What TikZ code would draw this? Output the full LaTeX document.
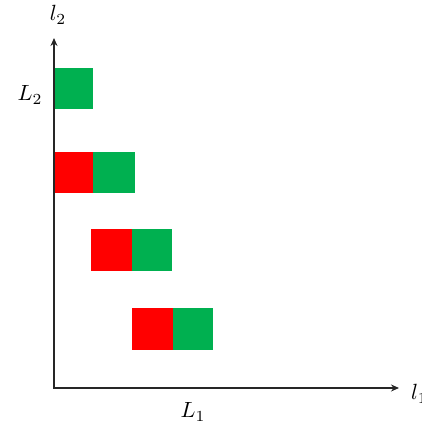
\documentclass[tikz,border=0pt]{standalone}
\usetikzlibrary{arrows.meta}
\definecolor{offgreen}{HTML}{00B050}
\definecolor{offred}{HTML}{FF0000}
\newcommand\axlab[1]{\scalebox{2.2}{$#1$}}
\begin{document}
\begin{tikzpicture}[x=1pt,y=-1pt,
  redbox/.style={fill=offred,draw=none},
  greenbox/.style={fill=offgreen,draw=none},
  axis/.style={line width=1.3pt,draw=black!85,-{Stealth[length=8pt,width=7pt]}},
  lab/.style={inner sep=0pt}]
\clip (0,0) rectangle (421,427);
\useasboundingbox (0,0) rectangle (421,427);
% boxes
\fill[greenbox] (54,68) rectangle (93,109);
\fill[redbox] (54,152) rectangle (93,193);
\fill[greenbox] (93,152) rectangle (135,193);
\fill[redbox] (91,229) rectangle (132,271);
\fill[greenbox] (132,229) rectangle (172,271);
\fill[redbox] (132,308) rectangle (173,350);
\fill[greenbox] (173,308) rectangle (213,350);
% axes
\coordinate (o) at (54,388);
\coordinate (ytop) at (54,38);
\coordinate (xend) at (399,388);
\draw[axis] (o) -- (ytop);
\draw[axis] ([xshift=-0.65pt]o) -- (xend);
% labels
\node[lab] (l2) at (58,15) {\axlab{l_2}};
\node[lab] (L2) at (30,95) {\axlab{L_2}};
\node[lab] (L1) at (193,412) {\axlab{L_1}};
\node[lab,anchor=west] (l1) at (411,394) {\axlab{l_1}};
\end{tikzpicture}
\end{document}
